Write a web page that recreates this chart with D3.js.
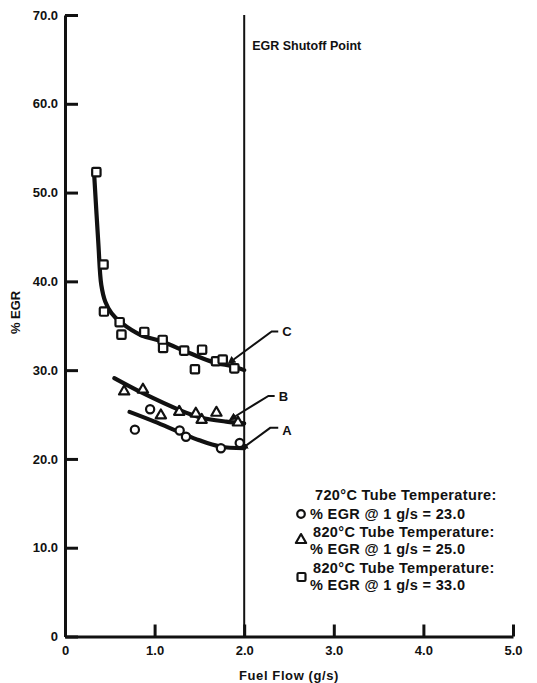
<!DOCTYPE html>
<html>
<head>
<meta charset="utf-8">
<script src="https://cdn.jsdelivr.net/npm/d3@7"></script>
<style>
  html, body { margin: 0; padding: 0; background: #fff; }
  svg { display: block; }
  text { font-family: "Liberation Sans", Arial, Helvetica, sans-serif; font-weight: bold; fill: #111; }
</style>
</head>
<body>
<svg id="chart" width="537" height="683"></svg>
<script>
// Fuel flow (g/s) and % EGR readings for each tube temperature case
const squareFuel = [0.35, 0.43, 0.435, 0.61, 0.63, 0.885, 1.09, 1.095, 1.33, 1.53, 1.45, 1.685, 1.76, 1.89];
const squareEgr  = [52.3, 41.9, 36.6, 35.4, 34.0, 34.3, 33.4, 32.5, 32.2, 32.3, 30.1, 31.0, 31.2, 30.2];

const triangleFuel = [0.66, 0.87, 1.07, 1.275, 1.46, 1.525, 1.69, 1.93];
const triangleEgr  = [27.6, 27.8, 24.9, 25.3, 25.1, 24.4, 25.2, 24.1];

const circleFuel = [0.78, 0.95, 1.28, 1.35, 1.74, 1.95];
const circleEgr  = [23.3, 25.6, 23.2, 22.5, 21.2, 21.8];

// Faired curves through each data set
const curveCFuel = [0.327, 0.372, 0.405, 0.45, 0.52, 0.62, 0.856, 1.06, 1.395, 1.655, 1.88, 2.0];
const curveCEgr  = [51.8, 44.3, 39.6, 37.7, 36.4, 35.4, 33.9, 33.3, 31.9, 30.9, 30.4, 30.0];
const curveBFuel = [0.55, 0.87, 1.28, 1.5, 1.8, 2.0];
const curveBEgr  = [29.1, 27.4, 25.5, 24.7, 24.2, 24.0];
const curveAFuel = [0.72, 1.0, 1.28, 1.5, 1.73, 2.0];
const curveAEgr  = [25.3, 24.2, 23.0, 22.1, 21.4, 21.2];

// Curve call-outs: [start, elbow, end] in data units, plus label
const calloutNames = ["C", "B", "A"];
const calloutFuel = [[1.878, 2.307, 2.38], [1.897, 2.27, 2.34], [2.02, 2.29, 2.38]];
const calloutEgr  = [[31.17, 34.36, 34.36], [24.78, 27.1, 27.1], [21.5, 23.5, 23.5]];

const xTicks = [0, 1, 2, 3, 4, 5];
const xTickLabels = ["0", "1.0", "2.0", "3.0", "4.0", "5.0"];
const yTicks = [0, 10, 20, 30, 40, 50, 60, 70];
const yTickLabels = ["0", "10.0", "20.0", "30.0", "40.0", "50.0", "60.0", "70.0"];

const shutoffFuel = 2.0;
const shutoffLabel = "EGR Shutoff Point";
const xTitle = "Fuel Flow (g/s)";
const yTitle = "% EGR";

const legendLines = [
  "720°C Tube Temperature:",
  "% EGR @ 1 g/s = 23.0",
  "820°C Tube Temperature:",
  "% EGR @ 1 g/s = 25.0",
  "820°C Tube Temperature:",
  "% EGR @ 1 g/s = 33.0"
];

const svg = d3.select("#chart");

const x = d3.scaleLinear().domain([0, 5]).range([65, 513]);
const y = d3.scaleLinear().domain([0, 70]).range([636.5, 15]);

// Axes with inward ticks
const yAxis = d3.axisLeft(y)
  .tickValues(yTicks)
  .tickFormat((d, i) => yTickLabels[i])
  .tickSize(-13)
  .tickSizeOuter(0)
  .tickPadding(7);

const xAxis = d3.axisBottom(x)
  .tickValues(xTicks)
  .tickFormat((d, i) => xTickLabels[i])
  .tickSize(-12)
  .tickSizeOuter(0)
  .tickPadding(9);

const gy = svg.append("g").attr("transform", `translate(${x(0)},0)`).call(yAxis);
const gx = svg.append("g").attr("transform", `translate(0,${y(0)})`).call(xAxis);

[gx, gy].forEach(g => {
  g.select(".domain").attr("stroke", "#111").attr("stroke-width", 3);
  g.selectAll(".tick line").attr("stroke", "#111").attr("stroke-width", 3);
  g.selectAll(".tick text")
    .attr("fill", "#111")
    .style("font-family", "'Liberation Sans', Arial, sans-serif")
    .style("font-weight", "bold")
    .style("font-size", "13px");
});
gx.selectAll(".tick").filter(d => d === 0).select("line").remove();

// Axis titles
svg.append("text")
  .attr("x", 289).attr("y", 680)
  .attr("text-anchor", "middle")
  .style("font-size", "13px")
  .style("letter-spacing", "0.6px")
  .text(xTitle);

svg.append("text")
  .attr("transform", `translate(20,${y(36.5)}) rotate(-90)`)
  .attr("text-anchor", "middle")
  .style("font-size", "13px")
  .text(yTitle);

// EGR shutoff line
svg.append("line")
  .attr("x1", x(shutoffFuel)).attr("x2", x(shutoffFuel))
  .attr("y1", y(70)).attr("y2", y(0))
  .attr("stroke", "#111").attr("stroke-width", 2);

svg.append("text")
  .attr("x", x(shutoffFuel) + 8).attr("y", 50)
  .style("font-size", "12.5px")
  .text(shutoffLabel);

// Faired curves
const line = d3.line()
  .x(d => x(d[0])).y(d => y(d[1]))
  .curve(d3.curveCatmullRom.alpha(0.5));

const curves = [
  d3.zip(curveCFuel, curveCEgr),
  d3.zip(curveBFuel, curveBEgr),
  d3.zip(curveAFuel, curveAEgr)
];

svg.append("g").selectAll("path.fit")
  .data(curves).join("path")
  .attr("class", "fit")
  .attr("d", line)
  .attr("fill", "none")
  .attr("stroke", "#111")
  .attr("stroke-width", 4.2)
  .attr("stroke-linecap", "round");

// Data markers
const mk = svg.append("g").attr("fill", "#fff").attr("stroke", "#111").attr("stroke-width", 2.2);

mk.selectAll("rect.sq")
  .data(d3.zip(squareFuel, squareEgr)).join("rect")
  .attr("class", "sq")
  .attr("x", d => x(d[0]) - 4.2).attr("y", d => y(d[1]) - 4.2)
  .attr("width", 8.4).attr("height", 8.4).attr("rx", 1.2);

const tri = d3.symbol().type(d3.symbolTriangle).size(46);
mk.selectAll("path.tri")
  .data(d3.zip(triangleFuel, triangleEgr)).join("path")
  .attr("class", "tri")
  .attr("transform", d => `translate(${x(d[0])},${y(d[1])})`)
  .attr("d", tri)
  .attr("stroke-linejoin", "round");

mk.selectAll("circle.ci")
  .data(d3.zip(circleFuel, circleEgr)).join("circle")
  .attr("class", "ci")
  .attr("cx", d => x(d[0])).attr("cy", d => y(d[1]))
  .attr("r", 4.1);

// Call-outs naming each curve
svg.append("defs").append("marker")
  .attr("id", "head")
  .attr("viewBox", "0 0 10 10")
  .attr("refX", 1).attr("refY", 5)
  .attr("markerWidth", 4).attr("markerHeight", 4)
  .attr("orient", "auto-start-reverse")
  .append("path")
  .attr("d", "M0,0 L10,5 L0,10 Z")
  .attr("fill", "#111");

const callout = svg.append("g");
calloutNames.forEach((name, i) => {
  const pts = d3.zip(calloutFuel[i], calloutEgr[i]);
  callout.append("path")
    .attr("d", d3.line().x(d => x(d[0])).y(d => y(d[1]))(pts))
    .attr("fill", "none")
    .attr("stroke", "#111")
    .attr("stroke-width", 2)
    .attr("marker-start", "url(#head)");
  const end = pts[pts.length - 1];
  callout.append("text")
    .attr("x", x(end[0]) + 4)
    .attr("y", y(end[1]) + (name === "A" ? 7 : 5))
    .style("font-size", "13px")
    .text(name);
});

// Legend
const legend = svg.append("g");
const legendY = [495, 514, 532, 549, 568, 585];
const legendX = [315, 310, 313, 310, 313, 310];
legendLines.forEach((t, i) => {
  legend.append("text")
    .attr("x", legendX[i]).attr("y", legendY[i] + 5)
    .style("font-size", "14.5px")
    .style("letter-spacing", "0.35px")
    .text(t);
});
const lg = legend.append("g").attr("fill", "#fff").attr("stroke", "#111").attr("stroke-width", 2.2);
lg.append("circle").attr("cx", 301).attr("cy", 514).attr("r", 3.8);
lg.append("path").attr("transform", "translate(301,540)").attr("d", tri).attr("stroke-linejoin", "round");
lg.append("rect").attr("x", 297.5).attr("y", 573).attr("width", 8).attr("height", 8).attr("rx", 1.2);
</script>
</body>
</html>
